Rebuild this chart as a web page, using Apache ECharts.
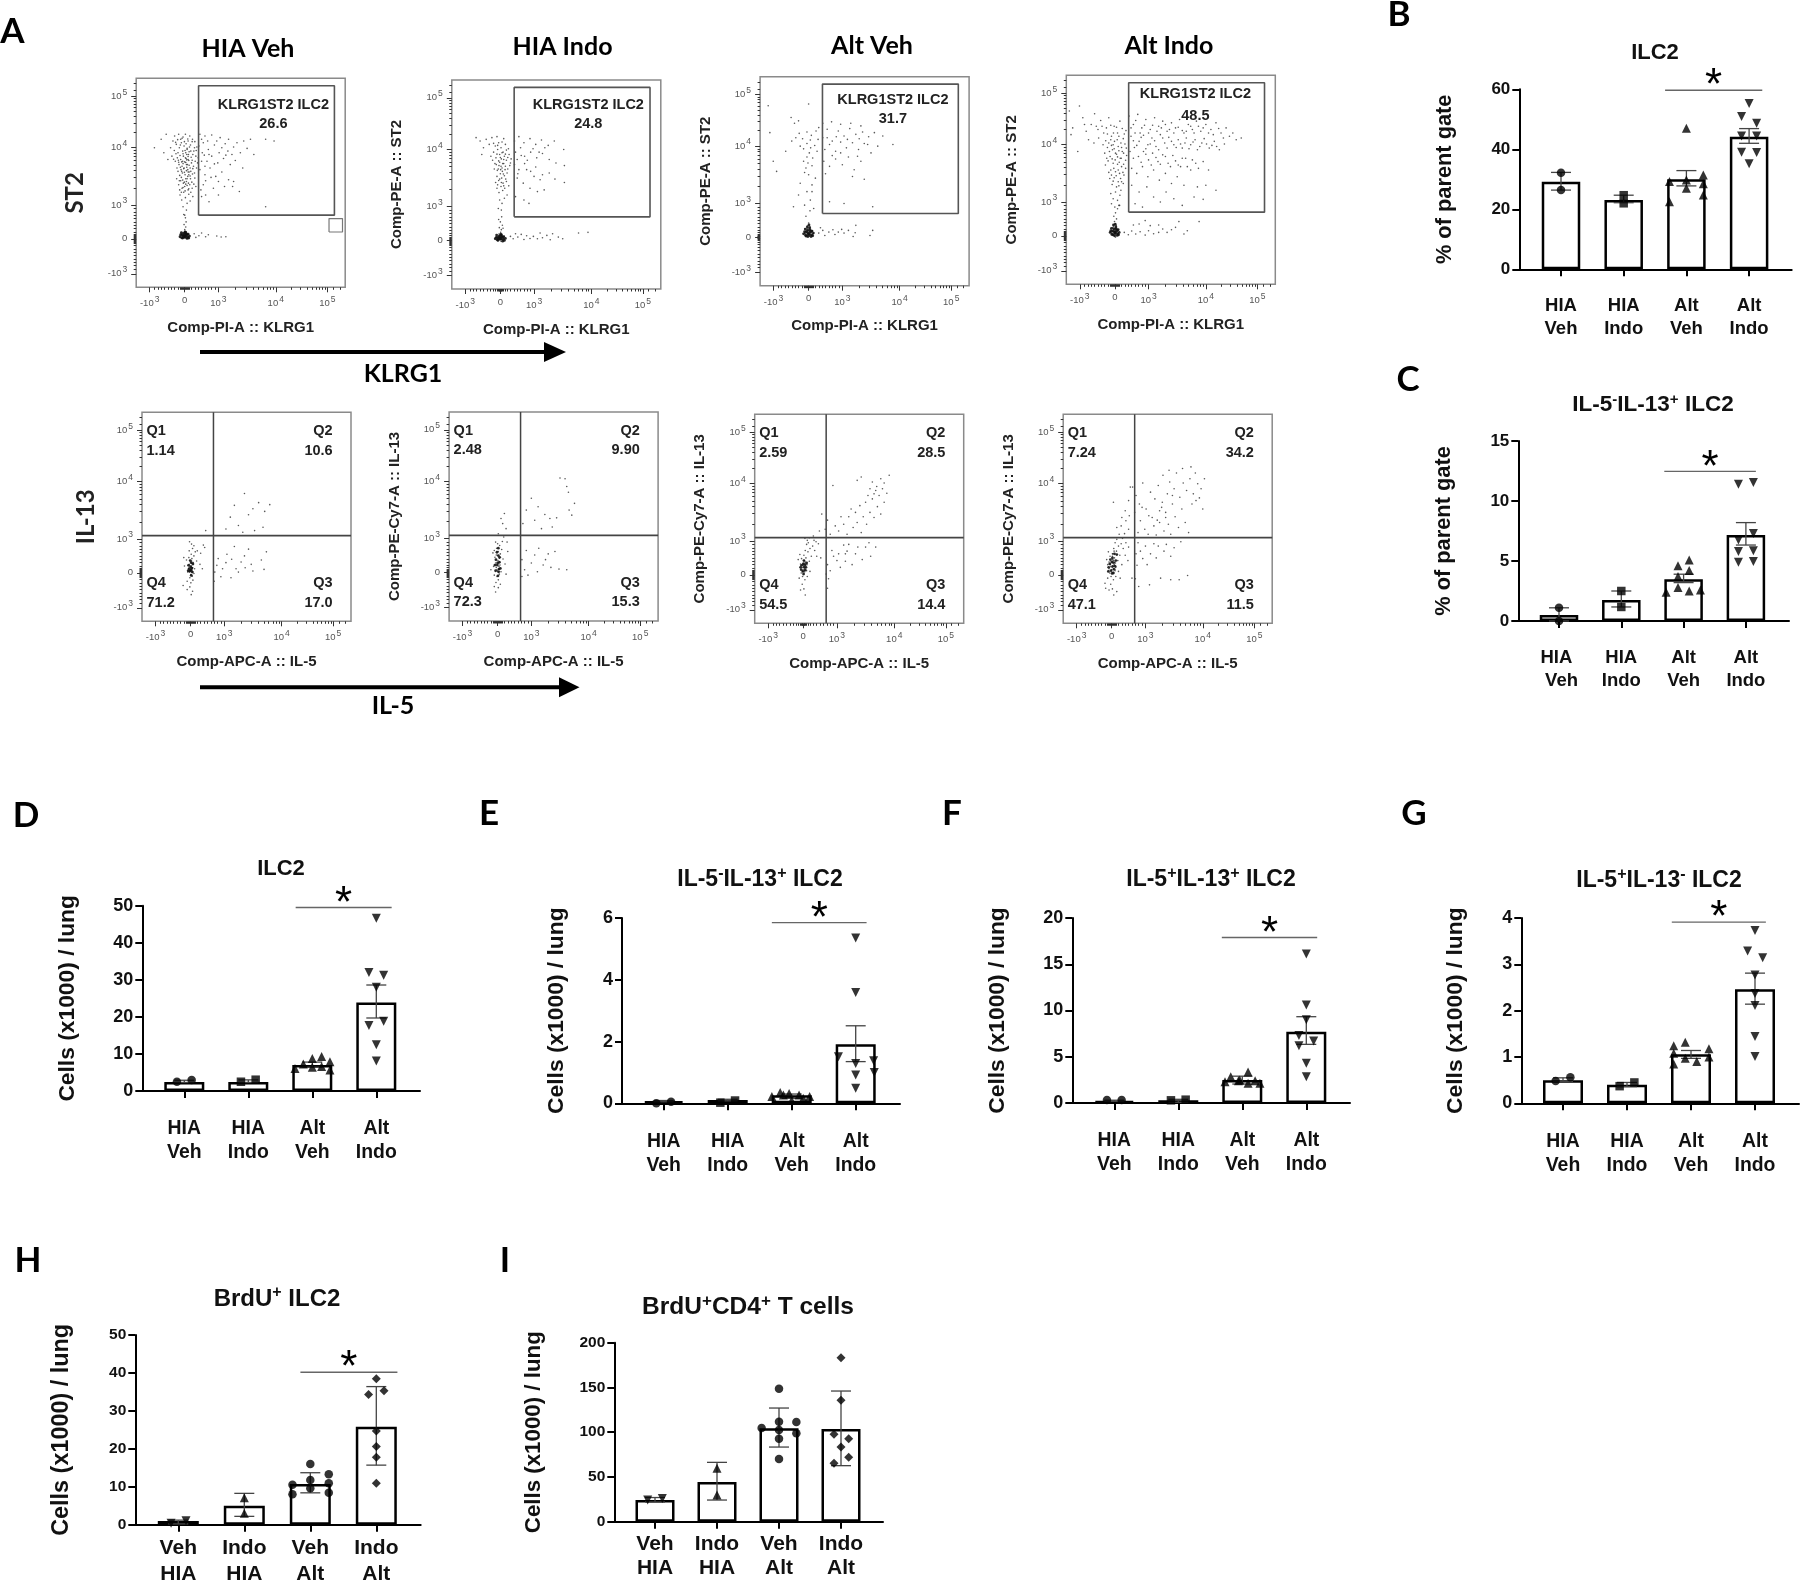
<!DOCTYPE html>
<html><head><meta charset="utf-8">
<style>html,body{margin:0;padding:0;background:#fff}#c{width:1800px;height:1582px}</style>
<script src="https://cdn.jsdelivr.net/npm/echarts@6/dist/echarts.min.js"></script>
</head><body><div id="c"></div>
<script>
// ---------- bar panels: categories ----------
const catsHiaAlt = ['HIA\nVeh','HIA\nIndo','Alt\nVeh','Alt\nIndo'];
const catsHiaAltC = ['HIA \n Veh','HIA\nIndo','Alt\nVeh','Alt\nIndo'];
const catsVehIndo = ['Veh\nHIA','Indo\nHIA','Veh\nAlt','Indo\nAlt'];
// ---------- bar panels: values (mean, error caps, points as [jitter, value]) ----------
const barsB=[29.2,23.1,30,44.2], hiB=[32.3,24.7,32.9,46.9], loB=[26.4,22.2,27.8,42], sigB=[2.66,4.21,59.7];
const ptsB=[[[0,32.2],[0,26.4]],[[0,24.7],[0,22]],
 [[0,47],[.27,31.4],[-.27,29.3],[0,29.8],[0,27],[.27,28.5],[.27,24.8],[-.27,22.5]],
 [[0,55.3],[-.12,50.9],[.12,48.7],[-.12,44.4],[.12,44.4],[-.12,39],[.12,38.9],[0,35.2]]];
const barsC=[.5,1.75,3.47,7.17], hiC=[1.1,2.5,3.9,8.2], loC=[0,1.17,3.2,6.33], sigC=[2.69,4.16,12.47];
const ptsC=[[[0,1.1],[0,0]],[[0,2.5],[0,1.17]],
 [[.09,5.08],[-.09,4.6],[.09,4.2],[-.09,3.7],[-.09,2.8],[.09,2.5],[.27,2.58],[-.28,2.4]],
 [[-.12,11.4],[.12,11.55],[.12,7.3],[-.12,6.75],[-.12,5.8],[.12,5.86],[-.12,4.9],[.12,4.95]]];
const barsD=[2.4,2.4,7,23.9], hiD=[2.9,3,7.8,28.6], loD=[2.3,2.3,6.4,19.7], sigD=[2.74,4.24,49.5];
const ptsD=[[[-.115,2.5],[.115,3]],[[-.115,2.5],[.115,3.05]],
 [[0,8.8],[.146,9.3],[-.14,7.3],[.276,7.9],[-.27,6.1],[0,6.4],[.146,6.6],[.276,5.7]],
 [[0,46.6],[-.115,32],[.115,31.2],[0,28],[.115,18.8],[-.115,17.7],[0,12.5],[0,8.1]]];
const barsE=[.07,.11,.26,1.91], hiE=[.09,.13,.3,2.51], loE=[.05,.08,.16,1.35], sigE=[2.69,4.17,5.85];
const ptsE=[[[-.115,0],[.115,.05]],[[-.115,.02],[.115,.09]],
 [[-.18,.35],[-.04,.32],[-.31,.22],[.115,.27],[.28,.22],[0,.09],[-.13,.27],[.18,.16]],
 [[0,5.35],[0,3.59],[-.27,1.51],[.28,1.38],[0,1.29],[0,.92],[.29,1],[0,.49]]];
const barsF=[.22,.3,2.49,7.7], hiF=[.3,.4,2.9,9.33], loF=[.18,.07,2.05,6.34], sigF=[2.68,4.17,17.9];
const ptsF=[[[-.115,.32],[.115,.32]],[[-.115,.29],[.115,.36]],
 [[.09,3.35],[-.18,2.85],[-.27,2.3],[-.04,2.5],[.09,2.13],[.276,2.13],[-.06,2.4],[.2,2.4]],
 [[0,16.1],[0,10.6],[0,9],[-.115,7.3],[.115,6.7],[-.115,6.2],[0,4.3],[0,2.85]]];
const barsG=[.5,.4,1.06,2.46], hiG=[.55,.45,1.14,2.81], loG=[.47,.36,.97,2.14], sigG=[2.7,4.17,3.91];
const ptsG=[[[-.115,.48],[.115,.56]],[[-.115,.37],[.115,.45]],
 [[-.09,1.32],[-.27,1.24],[.28,1.18],[-.27,1.08],[-.09,.97],[.09,.9],[.28,1],[-.27,.85]],
 [[0,3.73],[-.115,3.29],[.12,3.14],[0,2.77],[0,2.37],[0,2.11],[0,1.44],[0,1.01]]];
const barsH=[.97,5,10.7,25.8], hiH=[1.2,8.26,13.7,36.4], loH=[.2,2.2,8.4,15.7], sigH=[2.85,4.32,40.2];
const ptsH=[[[-.11,.35],[.117,1.05]],[[0,7.1],[0,3]],
 [[0,16],[.28,13.3],[-.27,10.5],[0,11.8],[.28,10.9],[0,9.6],[-.27,8],[.28,8.4]],
 [[0,38.5],[.117,35.3],[-.117,34.3],[0,24.7],[0,20.6],[0,17.8],[0,10.9]]];
const barsI=[24.2,44.3,104.3,103.5], hiI=[27,66.3,127,146], loI=[22,24.2,83.4,62.6];
const ptsI=[[[-.118,24.2],[.118,26]],[[0,59.6],[0,29.8]],
 [[0,148.6],[0,111.7],[.28,111.4],[-.28,104.7],[0,102.4],[.28,98.7],[0,92.7],[0,70]],
 [[0,183.2],[0,135.6],[-.113,97.6],[.124,92.7],[0,83.4],[.124,71.9],[-.113,65.2]]];
// ---------- flow panels: axis ticks in display units, gates, read-off events ----------
const flowTicks=[-1.04,0,1,2.7,4.23];
const flowTickLabels=['-10{s|3}','0','10{s|3}','10{s|4}','10{s|5}'];
const flowMinor=[-.9,-.8,-.7,-.6,-.5,-.4,-.3,-.2,-.14,-.1,-.07,-.04,-.02,.02,.04,.07,.1,.14,.2,.3,.4,.5,.6,.7,.8,.9,1.51,1.81,2.02,2.19,2.32,2.44,2.54,2.62,3.16,3.43,3.63,3.77,3.89,3.99,4.08,4.16,4.4,4.6];
const gateX=[.41,4.44], gateY=[.7,4.54], quadX=.68, quadY=1.1;
const gateNames=['KLRG1ST2 ILC2','KLRG1ST2 ILC2','KLRG1ST2 ILC2','KLRG1ST2 ILC2'];
const gateVals=['26.6','24.8','31.7','48.5'];
const q1A=['1.14','2.48','2.59','7.24'], q2A=['10.6','9.90','28.5','34.2'], q3A=['17.0','15.3','14.4','11.5'], q4A=['71.2','72.3','54.5','47.1'];
const dotsA1=[-.02,.08,.03,.1,0,.13,.05,.06,-.05,.11,.01,.04,-.03,.03,.06,.14,-.08,.08,.08,.09,.02,.17,-.01,.2,.04,.01,-.06,.17,.1,.04,-.1,.13,.12,.12,0,.27,.03,.35,-.02,.42,.04,.5,.02,.62,-.03,.72,.01,.09,-.01,.06,.02,.12,-.04,.09,.04,.07,0,.02,-.02,.15,.03,.16,
.28,.15,.42,.09,.5,.17,.62,.06,.7,.12,.95,.08,1.08,.05,1.22,.06,.33,.04,
-.35,2.9,-.42,2.7,-.3,3.05,-.18,3.1,-.12,2.95,-.05,3.02,.02,3.1,.1,2.9,.15,3.05,.22,2.88,-.38,2.45,-.31,2.62,-.25,2.8,-.2,2.55,-.16,2.7,-.1,2.85,-.06,2.6,-.02,2.75,.03,2.55,.07,2.68,.11,2.5,.14,2.72,.18,2.6,.24,2.5,.29,2.7,.33,2.45,-.28,2.3,-.22,2.4,-.17,2.2,-.12,2.35,-.08,2.15,-.04,2.45,0,2.28,.04,2.38,.08,2.2,.12,2.32,.16,2.1,.2,2.25,.26,2.15,.31,2.3,-.2,2,-.15,1.88,-.11,2.05,-.07,1.95,-.03,2.08,.01,1.9,.05,2.02,.09,1.85,.13,1.98,.17,1.78,.23,1.92,.3,1.8,-.18,1.6,-.12,1.72,-.08,1.5,-.04,1.65,0,1.55,.05,1.7,.1,1.45,.15,1.6,.22,1.5,-.14,1.3,-.09,1.15,-.03,1.38,.02,1.22,.07,1.05,.12,1.32,.16,1.12,-.05,.95,.05,.85,0,.7,.06,2.5,.02,2.4,.1,2.35,.05,2.2,-.02,2.1,.07,2.65,.09,2.05,.03,1.78,-.06,2.3,.12,1.9,-.9,2.7,-.7,2.95,-.55,3.1,-.62,2.55,-.5,2.35,
.45,3.1,.6,3.05,.8,3.08,1.05,3,1.3,2.95,1.55,2.85,1.75,2.9,1.95,2.95,2.4,2.95,2.65,2.9,.42,2.75,.55,2.85,.7,2.65,.88,2.78,1.1,2.7,1.28,2.6,1.45,2.72,1.65,2.55,1.85,2.68,2.05,2.5,.4,2.4,.52,2.55,.66,2.3,.8,2.45,.98,2.25,1.15,2.38,1.35,2.2,1.5,2.32,1.72,2.1,.45,2.05,.6,1.9,.75,2.1,.92,1.85,1.1,1.98,1.3,1.75,1.45,1.7,1.18,1.55,.85,1.5,.55,1.6,.5,1.25,.62,1.3,1,1.3,1.42,1.55,1.62,1.4,.72,1.1,2.4,.95,
-.27,2.86,-.21,2.94,-.13,2.78,-.08,2.98,-.01,2.88,.04,2.82,.09,2.96,.17,2.78,.23,2.95,.3,2.88,.36,2.72,-.33,2.36,-.26,2.52,-.19,2.33,-.14,2.47,-.09,2.28,-.05,2.52,.01,2.62,.06,2.34,.1,2.44,.13,2.58,.19,2.42,.22,2.33,.27,2.6,.34,2.62,.38,2.25,-.23,2.1,-.18,2.27,-.13,2.12,-.09,2,-.05,2.23,-.01,1.97,.03,2.26,.06,2.12,.1,1.98,.13,2.18,.18,2,.24,2.08,.29,1.95,.35,2.1,-.24,1.78,-.16,1.72,-.1,1.82,-.06,1.74,-.01,1.68,.03,1.62,.07,1.78,.11,1.65,.16,1.86,.21,1.68,.27,1.62,.33,1.55,-.15,1.45,-.1,1.38,-.05,1.52,.01,1.42,.07,1.58,.12,1.48,.18,1.38,.24,1.25,
.5,2.95,.68,2.9,.95,2.9,1.2,2.82,.5,2.3,.6,2.15,.72,2.5,.88,2.22,.58,2.48,1.02,2.55,1.22,2.48,1.4,2.5,.62,1.72,.78,1.82,1,1.7,.48,1.45];
const dotsA2=[0,.05,.03,.08,-.03,.02,.05,.1,-.05,.07,.01,.13,-.02,.11,.07,.04,-.07,.12,.09,.07,.02,-.02,-.09,.03,.11,.12,.04,.17,-.04,.19,.01,.24,.03,.32,-.03,.38,.06,.45,0,.55,-.05,.62,.04,.7,.08,.36,0,.08,.02,.03,-.01,.15,.04,.05,-.02,.06,.06,.12,.03,.12,
.3,.12,.38,.05,.45,.2,.52,.1,.62,.18,.7,.03,.78,.14,.88,.06,.98,.12,1.1,.05,1.18,.22,1.25,.08,1.38,.15,1.48,.02,1.55,.2,1.72,.1,1.85,.05,2.32,.22,2.6,.24,
-.72,3.05,-.6,2.95,-.5,2.75,-.42,3,-.33,2.85,-.55,2.55,-.25,3.05,-.15,2.8,-.1,3.08,-.05,2.9,.02,2.75,.1,3.02,.15,2.85,.24,2.72,-.28,2.5,-.2,2.62,-.13,2.45,-.08,2.7,-.02,2.55,.03,2.42,.08,2.62,.12,2.5,.18,2.38,.26,2.55,.32,2.42,-.12,2.25,-.06,2.12,-.02,2.32,.02,2.2,.06,2.05,.1,2.28,.14,2.1,.2,2,.28,2.22,-.1,1.9,-.05,1.78,0,1.98,.04,1.85,.08,1.7,.12,1.92,.18,1.75,-.1,1.55,-.04,1.42,.02,1.6,.07,1.48,.13,1.55,.2,1.35,-.02,1.2,.05,1.1,.12,1.25,-.06,.95,.03,.9,
.42,2.95,.55,3.08,.7,2.9,.88,3.02,1.05,2.85,1.22,2.98,1.42,2.82,1.6,2.95,1.88,2.7,.45,2.62,.6,2.75,.72,2.5,.9,2.62,1.08,2.45,1.25,2.58,1.45,2.4,1.65,2.3,1.9,2.22,.42,2.25,.55,2.1,.72,2.28,.9,2.05,1.05,2.18,1.25,1.95,1.45,2,1.62,1.82,1.9,1.72,.5,1.85,.68,1.7,.88,1.55,1.1,1.45,1.3,1.5,.45,1.3,.7,1.2,.85,1.1,
-.2,2.88,-.08,2.82,.05,2.92,.18,2.68,-.23,2.38,-.16,2.28,-.1,2.56,-.05,2.36,0,2.46,.05,2.6,.07,2.28,.1,2.4,.15,2.56,.22,2.46,.3,2.3,-.18,2.12,-.09,2.08,-.04,2.22,.01,2.1,.05,2.15,.09,1.97,.15,2.2,.22,2.12,-.14,1.72,-.08,1.65,-.02,1.82,.03,1.72,.1,1.62,.16,1.82,.25,1.62,.5,2.4,.62,2.52,.8,2.38,.97,2.72,1.15,2.62,1.32,2.75,.52,1.98,.78,2.1,1,1.9,1.18,1.8];
const dotsA3=[0,.1,.03,.14,-.03,.18,.05,.08,-.05,.06,.01,.22,-.02,.26,.07,.13,-.07,.15,.09,.05,.02,.03,-.09,.1,.11,.18,.04,.3,-.04,.34,.01,.12,.03,.05,-.01,.07,.06,.2,-.06,.24,-.12,.12,.14,.1,.02,.17,-.02,.09,.04,.16,-.04,.12,0,.42,
.3,.12,.42,.2,.48,.05,.6,.15,.72,.22,.78,.08,.88,.15,.98,.23,1.05,.12,1.18,.2,1.38,.13,1.32,.02,1.9,.2,1.82,.05,.35,.28,1.4,.35,
-.45,.9,-.3,1.25,-.25,1.6,-.12,.95,-.05,1.35,.05,1.1,.1,1.55,.15,.85,0,1.85,-.08,2.05,.1,2.12,.2,1.75,-.15,2.25,-.05,2.38,.02,2.5,.12,2.35,.25,2.55,-.25,2.7,-.15,2.62,-.05,2.78,.05,2.88,.18,2.72,.28,2.9,-.38,2.95,-.28,3.08,-.18,2.92,-.05,3.12,.08,3.02,.22,3.15,-.52,3.55,-.42,3.38,-.3,3.45,-.5,2.85,-1.15,3.1,-1.2,3.9,-.95,1.95,-1.05,2.25,-.68,2.55,0,3.95,.3,3.25,
.42,2.95,.55,3.2,.7,2.85,.88,3.15,1.05,3,1.22,3.22,1.4,3.05,1.6,3.12,1.78,2.98,1.95,3.1,2.2,3,.48,2.6,.62,2.75,.8,2.55,.95,2.82,1.12,2.65,1.3,2.8,1.48,2.6,1.65,2.78,1.85,2.5,2.05,2.7,2.5,2.75,.45,2.25,.62,2.1,.8,2.32,1,2.15,1.18,2.38,1.35,2,1.55,2.25,1.3,1.8,.5,1.88,1.65,1.72,.62,1.05,1.05,1,1.9,.9,
-.02,2.2,.06,2.65,-.12,1.92,.1,1.35,.04,.78,-.08,.62,.42,3.38,.68,3.42,.95,3.35,1.25,3.38,1.55,3.3,.55,2.95,.82,2.98,1.15,2.9,1.5,2.92,1.75,2.75,.7,2.42,.95,2.5,1.45,2.4];
const dotsA4=[0,.1,.03,.14,-.03,.17,.05,.07,-.05,.05,.01,.22,-.02,.02,.07,.13,-.07,.13,.09,.05,.02,.03,-.09,.08,.1,.17,.04,.3,-.04,.28,.01,.12,.03,.05,-.01,.07,.06,.2,-.06,.24,-.12,.1,.02,.36,-.01,.42,.05,.5,-.03,.58,.02,.68,.08,.8,.14,.9,.01,.16,.03,.09,-.02,.11,.02,-.04,
.28,.1,.4,.03,.5,.14,.62,.05,.75,.12,.9,.02,1,.15,1.15,.06,1.3,.1,1.42,.2,1.55,.1,1.68,.18,1.8,.25,1.9,.42,2.05,.05,2.5,.42,2.15,.15,.55,.32,.72,.35,1.05,.3,.9,.45,1.3,.32,
-1.35,3.7,-1.25,3.2,-1.3,3,-1.05,3.85,-.95,3.5,-.85,3.1,-1.1,2.5,-.7,3.3,-.6,3.62,-.5,3.15,-.42,3.42,-.33,3.05,-.78,2.85,-.62,2.75,-.48,2.9,-.35,2.7,-.25,3.2,-.18,3.5,-.1,2.95,-.02,3.25,.08,3.05,.15,3.4,.25,2.88,.33,3.12,-.3,2.45,-.22,2.62,-.14,2.35,-.07,2.55,-.01,2.8,.05,2.42,.1,2.65,.16,2.3,.22,2.5,.3,2.72,.35,2.38,-.28,2.1,-.2,2.22,-.12,1.95,-.05,2.15,.02,1.9,.08,2.12,.14,1.85,.2,2.05,.27,1.8,.32,2,-.15,1.7,-.08,1.52,-.02,1.72,.05,1.45,.1,1.6,.18,1.35,.25,1.55,-.12,1.25,-.05,1.1,.02,1.3,.08,1.05,.15,1.2,-.1,.95,0,.85,.12,.9,-.05,2.7,.02,2.45,-.12,2.85,.18,2.75,
.42,3.55,.55,3.3,.68,3.6,.8,3.2,.92,3.45,1.05,3.15,1.18,3.5,1.3,3.25,1.42,3.4,1.55,3.1,1.68,3.35,1.8,3.2,1.92,3.45,2.05,3.05,2.18,3.3,2.3,3.15,2.42,3.4,2.55,3.1,2.7,3.3,2.85,3.15,3,3.35,3.15,3.05,3.3,3.2,3.5,3.05,3.75,2.9,.48,2.95,.6,3.05,.72,2.8,.85,2.98,.98,2.7,1.1,2.9,1.22,2.65,1.35,3,1.48,2.75,1.6,2.92,1.75,2.7,1.88,2.85,2,2.6,2.12,2.9,2.25,2.7,2.38,2.85,2.52,2.65,2.65,2.88,2.8,2.6,2.95,2.8,3.1,2.55,3.25,2.72,
.45,2.5,.58,2.62,.7,2.35,.85,2.5,1,2.25,1.12,2.45,1.28,2.2,1.42,2.4,1.58,2.15,1.72,2.38,1.88,2.1,2,2.3,2.15,2.05,2.3,2.25,2.48,2,2.62,2.2,2.78,1.95,.5,2,.65,1.85,.82,2.05,.98,1.75,1.15,1.95,1.32,1.65,1.5,1.85,1.68,1.55,1.85,1.75,2.05,1.5,2.45,1.45,2.7,1.5,3,1.35,.5,1.5,.72,1.3,.95,1.45,1.15,1.15,1.35,1,1.52,1.3,1.75,1.1,2,.9,2.35,1.15,2.62,1.08,.6,.95,.82,.85,
-.9,3.3,-.55,3.25,-.38,3.25,-.22,3.02,-.12,3.28,-.04,3.05,.05,3.22,.12,2.95,.22,3.18,.28,3.02,-.27,2.82,-.18,2.75,-.1,2.68,-.02,2.58,.07,2.85,.12,2.52,.2,2.62,.26,2.45,.34,2.6,-.24,2.3,-.16,2.5,-.08,2.28,.01,2.25,.08,2.34,.13,2.18,.19,2.3,.26,2.12,.32,2.24,-.18,1.88,-.1,1.8,-.03,2,.04,1.78,.1,1.95,.17,1.7,.24,1.88,-.05,1.62,.12,1.48,.2,1.6,
.48,3.2,.62,3.42,.75,3.05,.88,3.28,1,3.05,1.12,3.28,1.25,3.1,1.38,3.2,1.5,3.3,1.62,3.15,1.75,3.05,1.88,3.22,2,3.12,2.12,3.1,2.25,3.25,2.35,3.05,2.48,3.25,2.62,3.2,2.78,3.05,2.92,3,3.08,3.18,3.22,2.9,3.4,2.95,3.6,2.85,.55,2.82,.65,2.68,.78,2.92,.92,2.58,1.05,2.72,1.18,2.82,1.3,2.55,1.42,2.9,1.55,2.6,1.68,2.8,1.82,2.62,1.95,2.72,2.08,2.75,2.2,2.58,2.32,2.78,2.45,2.55,2.58,2.75,2.72,2.72,2.88,2.68,3.02,2.65,.55,2.3,.78,2.18,.92,2.42,1.08,2.1,1.22,2.32,1.35,2.12,1.5,2.35,1.65,2.05,1.8,2.22,1.95,2.05,2.1,2.3,2.25,1.95,2.4,2.15];
const dotsA5=[0,.1,.04,.05,-.03,.02,.06,.15,-.06,.12,.02,.2,.01,-.05,.05,-.1,-.04,.25,.08,.3,.03,.35,-.08,.02,.1,-.02,-.02,-.15,.04,.42,-.05,.45,.07,-.22,.01,-.3,-.1,-.25,.12,.12,-.12,.38,.02,.55,.1,.5,-.04,.65,.06,.72,.03,.85,-.03,.92,.1,.8,.14,.62,.05,.08,.02,.15,-.01,.07,.07,.02,.01,.12,.18,.35,.2,.65,.28,.25,.3,.58,.35,.12,.38,.82,-.18,.2,-.22,-.38,-.1,-.5,-.02,-.42,.06,-.55,.02,-.65,-.2,.45,.04,.28,
.72,.02,.78,.22,.82,.42,.9,-.12,.95,.12,1.05,.3,1.08,.55,1.2,-.15,1.22,.4,1.3,.78,1.35,.12,1.42,.02,1.5,.32,1.6,.5,1.62,.15,1.72,.7,1.8,.25,1.85,.05,2.1,.38,2.18,.1,2.25,.62,.7,-.25,.42,.75,
1.05,1.3,1.18,1.65,1.3,2,1.42,1.4,1.55,1.2,1.6,2.35,1.72,1.72,1.85,1.9,1.9,1.25,2.02,2.08,2.15,1.35,2.2,1.82,2.35,2.02,.45,1.25];
const dotsA6=[0,.05,.03,.1,-.04,.15,.05,-.05,-.02,-.12,.07,.22,-.06,.28,.01,.35,.05,.42,-.08,.45,-.04,.52,.08,.55,.02,.62,-.1,.65,.12,.68,-.03,.72,.06,.8,0,.85,.14,.92,-.06,.9,.18,1.05,.02,1.15,-.12,.18,.1,.02,-.1,-.08,.02,-.22,-.05,-.3,.08,-.35,.02,-.45,-.1,-.42,-.06,-.58,.01,.02,.04,.18,-.02,.08,.06,.32,-.14,.58,.22,.25,.3,.62,-.2,.08,.16,.4,.25,-.05,.28,.9,
.72,.38,.8,.08,.85,.65,.9,-.08,1,.28,1.1,.52,1.18,.02,1.22,.72,1.35,.22,1.42,.38,1.5,.55,1.58,.15,1.7,.62,1.82,.1,2.05,.08,.72,-.12,.15,1.45,.2,1.75,.1,1.6,.25,1.3,
.75,1.45,.85,1.85,1,2.2,1.1,1.55,1.2,1.95,1.3,1.3,1.4,1.72,1.55,1.6,1.62,1.35,1.75,1.62,1.85,2.8,2,2.78,2.05,2.55,2.1,2.38,2.12,1.85,2.2,1.7,2.28,2.05];
const dotsA7=[0,.15,.04,.08,-.03,.22,.07,.28,-.06,.05,.02,.35,.05,.18,-.08,.32,.1,.12,-.02,-.05,.03,.42,.08,.5,-.05,.48,.11,.3,.02,.58,.14,.68,.06,.72,.18,.4,-.1,.6,.2,.78,.1,.9,.24,.55,.28,.85,.15,.95,.12,1.02,.34,.72,.05,-.15,-.03,-.28,-.08,-.45,.02,-.42,.06,-.6,-.12,-.1,.12,-.05,.2,.1,-.15,.45,.02,.25,.04,.12,0,.28,.06,.38,-.02,.1,.4,.55,.45,.92,.52,.5,.3,1.15,.38,.98,.48,1.3,.32,1.02,.18,1.1,.05,1.08,
.68,.02,.72,.3,.75,-.12,.85,.72,.9,.55,1,.42,1.05,.62,1.2,.88,1.25,.4,1.3,.7,1.35,.9,1.45,.3,1.55,.62,1.62,.82,1.75,.45,1.85,.82,1.95,.95,2,.55,2.15,.82,.72,-.4,.8,.12,1.1,.22,1.25,.62,
.55,1.8,.65,1.35,.72,1.62,.8,1.2,.88,2.65,.95,1.45,1.05,1.3,1.12,1.72,1.2,1.5,1.3,1.2,1.35,1.72,1.42,1.95,1.48,1.4,1.55,1.85,1.6,1.55,1.68,2.05,1.72,1.25,1.78,1.72,1.85,2.15,1.88,1.5,1.92,2.35,1.98,1.85,2.05,2.25,2.1,1.7,2.15,2.5,2.2,2.02,2.25,2.35,2.3,1.8,2.35,2.55,2.4,2.15,2.48,2.42,1.6,2.8,1.72,2.9,2.05,2.75,2.3,2.85,2.55,2.95,2.4,2.72,2.18,2.62,2.1,2.4,1.98,2.55];
const dotsA8=[0,.15,.04,.08,-.03,.25,.07,.3,-.06,.05,.02,.35,.05,.18,-.08,.38,.1,.12,-.02,-.05,.03,.45,.08,.5,-.05,.55,.11,.35,.02,.62,.14,.7,.06,.78,.18,.42,-.1,.68,.2,.85,.1,.95,.24,.58,.28,.92,.15,1.05,.12,.22,.34,.78,-.04,.32,.01,.22,.05,.42,.09,.28,-.08,.18,-.12,.3,.03,.62,.07,.7,.02,.55,.05,-.15,-.03,-.28,-.08,-.45,.02,-.42,.06,-.6,-.12,-.1,-.18,-.4,-.2,-.25,.12,-.05,.2,.1,-.15,.45,.15,-.5,.25,-.1,.3,.3,.4,.58,.42,.95,.48,.42,.5,.82,.32,1.08,.38,1.22,.5,1.35,.22,1.2,.28,1.45,.15,1.4,.42,1.6,.52,1.75,.3,1.7,.4,1.9,.05,2.15,.5,2.2,.55,2.6,
.7,-.12,.75,.28,.72,.62,.78,.95,.85,.7,.92,.48,1,.85,1.05,.3,1.12,-.3,1.15,.62,1.25,.92,1.32,.5,1.38,.85,1.45,-.1,1.55,.7,1.62,.9,1.75,.55,1.85,.8,2.05,.98,1.75,-.15,2,-.15,2.25,-.02,.8,-.35,.6,-.1,
.62,2.6,.68,1.85,.72,2.35,.78,1.25,.82,2.1,.85,1.6,.92,2.72,.98,1.35,1.02,1.95,1.08,1.2,1.15,2.45,1.2,1.7,1.25,1.45,1.28,2.25,1.32,1.18,1.38,2.65,1.42,1.55,1.48,2,1.52,2.95,1.55,1.3,1.6,1.85,1.65,2.4,1.68,1.5,1.72,2.75,1.75,1.2,1.8,2.1,1.85,2.55,1.88,1.72,1.92,3.02,1.98,1.4,2.02,2.3,2.08,1.95,2.12,2.72,2.18,1.55,2.22,2.5,2.28,1.25,2.32,2.85,2.38,2.1,2.42,2.4,2.48,3.02,2.55,2.7,2.6,2.28,2.65,2.55,2.7,1.95,2.75,2.85,2.1,3.15,1.7,3.1,2.35,3.2,2.5,2.2,1.5,2.15,.9,2,1.1,1.75,1.35,1.62,1.42,1.9,1.6,1.7,1.8,2.35];
// dense near-zero populations, drawn with a heavier dot
const coreA1=[-.14,.06,-.1,.18,-.06,.02,-.03,.16,0,.06,.03,.19,.07,.01,.1,.14,.14,.08,-.12,.12,-.07,.11,-.02,.1,.02,.07,.06,.12,.09,.05,-.09,.03,.04,.14,-.04,.06,.12,.02,.01,.2];
const coreA2=[-.15,.05,-.11,.16,-.07,0,-.03,.13,0,.04,.03,.17,.07,-.02,.1,.11,.15,.06,-.12,.09,-.08,.08,-.02,.08,.02,.05,.06,.1,.09,.03,-.09,.02,.04,.12,-.04,.05,.12,0,.01,.18];
const coreA3=[-.15,.1,-.1,.24,-.07,.03,-.03,.2,0,.08,.03,.28,.07,.02,.1,.18,.14,.12,-.12,.16,-.07,.16,-.02,.12,.02,.1,.06,.16,.09,.07,-.09,.06,.04,.22,-.04,.3,.12,.04,.01,.36,-.02,.02];
const coreA4=[-.14,.1,-.1,.22,-.06,.03,-.03,.2,0,.08,.03,.26,.07,.01,.1,.18,.13,.1,-.12,.15,-.07,.14,-.02,.12,.02,.1,.06,.15,.09,.06,-.09,.04,.04,.2,-.04,.32,.11,.03,.01,.34,-.01,.0];
const coreA5=[-.06,.22,-.02,.05,.02,.3,.05,.02,-.04,.12,0,.18,.04,.14,.07,.26,.02,-.08,-.07,.06,.01,.08,-.01,.36];
const coreA6=[-.05,.38,-.01,.22,.02,.5,.04,.1,-.06,.05,0,.28,.05,.3,.08,.12,.01,-.1,-.08,.22,.03,.02,-.02,.6,.06,.45,.02,.72];
const coreA7=[-.05,.28,-.01,.1,.03,.22,.06,.14,-.06,.15,0,.32,.05,.3,.08,.22,.01,.02,-.08,.22,.02,.42,.1,.35];
const coreA8=[-.06,.32,-.02,.12,.03,.25,.07,.16,-.09,.22,0,.38,.06,.36,.1,.25,.01,.04,-.1,.1,.02,.5,.12,.42,.05,.05,-.04,.45,.15,.6,.08,.62];

// ---------- layout helpers ----------
const SANS='"Liberation Sans",Arial,sans-serif', HEAD='Lato,"Open Sans",sans-serif';
const pairs=a=>{const o=[];for(let i=0;i<a.length;i+=2)o.push([a[i],a[i+1]]);return o;};
const option={backgroundColor:'#fff',animation:false,title:[],grid:[],xAxis:[],yAxis:[],series:[],graphic:[]};
function addText(text,x,y,font){option.title.push({text,left:x,top:y,padding:0,textAlign:'center',textVerticalAlign:'middle',textStyle:font});}
const headFont=s=>({fontFamily:HEAD,fontWeight:'bold',fontSize:s,color:'#000'});
const titleFont=s=>({fontFamily:SANS,fontWeight:'bold',fontSize:s,color:'#111',rich:{s:{fontFamily:SANS,fontWeight:'bold',fontSize:Math.round(s*.68),color:'#111',padding:[0,0,Math.round(s*.5),0]}}});

// ---------- bar panels ----------
const markerSets={std:[['circle',0],['rect',0],['triangle',0],['triangle',180]],brdu:[['triangle',180],['triangle',0],['circle',0],['diamond',0]]};
function barPanel(p){
  const g=option.grid.length;
  const sp=p.c[1]-p.c[0];
  option.grid.push({left:p.ax,top:p.yTop,width:p.right-p.ax,height:p.y0-p.yTop,outerBoundsMode:'none'});
  option.xAxis.push({gridIndex:g,type:'value',min:1-(p.c[0]-p.ax)/sp,max:1+(p.right-p.c[0])/sp,splitLine:{show:false},
    axisLine:{onZero:false,lineStyle:{color:'#000',width:2}},
    axisTick:{length:7,customValues:[1,2,3,4],lineStyle:{color:'#000',width:2}},
    axisLabel:{customValues:[1,2,3,4],margin:p.labM,fontFamily:SANS,fontWeight:'bold',fontSize:p.catFs,color:'#111',lineHeight:p.labLh,formatter:v=>p.cats[Math.round(v)-1]}});
  option.yAxis.push({gridIndex:g,type:'value',min:0,max:p.ymax,interval:p.step,splitLine:{show:false},
    name:p.yName,nameLocation:'middle',nameGap:p.ax-p.nameX-p.nameFs/2,nameTextStyle:{fontFamily:SANS,fontWeight:'bold',fontSize:p.nameFs,color:'#111'},
    axisLine:{lineStyle:{color:'#000',width:2}},axisTick:{length:7,lineStyle:{color:'#000',width:2}},
    axisLabel:{margin:9,fontFamily:SANS,fontWeight:'bold',fontSize:p.tickFs,color:'#111'}});
  const xi=option.xAxis.length-1, yi=option.yAxis.length-1;
  option.series.push({type:'bar',xAxisIndex:xi,yAxisIndex:yi,barWidth:p.bw,z:2,silent:true,
    data:p.bars.map((v,i)=>[i+1,v]),itemStyle:{color:'#fff',borderColor:'#000',borderWidth:2.5}});
  option.series.push({type:'custom',xAxisIndex:xi,yAxisIndex:yi,z:3,silent:true,encode:{x:0,y:[1,2]},
    data:p.hi.map((v,i)=>[i+1,v,p.lo[i]]),
    renderItem(par,api){const x=api.value(0),a=api.coord([x,api.value(1)]),b=api.coord([x,api.value(2)]);
      const st={stroke:'#444',lineWidth:1.3,fill:null};
      return {type:'group',children:[
        {type:'line',shape:{x1:a[0],y1:a[1],x2:b[0],y2:b[1]},style:st},
        {type:'line',shape:{x1:a[0]-10,y1:a[1],x2:a[0]+10,y2:a[1]},style:st},
        {type:'line',shape:{x1:b[0]-10,y1:b[1],x2:b[0]+10,y2:b[1]},style:st}]};}});
  p.pts.forEach((grp,i)=>{const m=markerSets[p.marks][i];
    option.series.push({type:'scatter',xAxisIndex:xi,yAxisIndex:yi,z:4,silent:true,symbol:m[0],symbolRotate:m[1],symbolSize:m[0]==='circle'||m[0]==='rect'?8.5:9,
      data:grp.map(q=>[i+1+q[0],q[1]]),itemStyle:{color:'#000'}});});
  if(p.sig){option.series.push({type:'custom',xAxisIndex:xi,yAxisIndex:yi,z:5,silent:true,encode:{x:[0,1],y:2},data:[p.sig],
    renderItem(par,api){const a=api.coord([api.value(0),api.value(2)]),b=api.coord([api.value(1),api.value(2)]);
      return {type:'group',children:[
        {type:'line',shape:{x1:a[0],y1:a[1],x2:b[0],y2:b[1]},style:{stroke:'#666',lineWidth:1.4}},
        {type:'text',style:{text:'*',x:(a[0]+b[0])/2,y:a[1]-3,align:'center',verticalAlign:'middle',font:'44px '+SANS,fill:'#000'}}]};}});}
  addText(p.title,p.tx,p.ty,titleFont(p.titleFs));
}
const cellLung='Cells (x1000) / lung', pct='% of parent gate';
[
 {ax:1519.3,y0:269.3,yTop:89.3,c:[1561,1623.7,1686,1748.7],right:1791.7,ymax:60,step:20,cats:catsHiaAlt,bars:barsB,hi:hiB,lo:loB,pts:ptsB,sig:sigB,marks:'std',bw:38.5,yName:pct,nameX:1445,nameFs:21.8,tickFs:17,catFs:18.5,labM:25,labLh:23,title:'ILC2',tx:1655,ty:53,titleFs:22},
 {ax:1518.3,y0:621,yTop:441,c:[1559,1621.3,1684,1746.3],right:1789,ymax:15,step:5,cats:catsHiaAltC,bars:barsC,hi:hiC,lo:loC,pts:ptsC,sig:sigC,marks:'std',bw:38.5,yName:pct,nameX:1444,nameFs:21.8,tickFs:17,catFs:18.5,labM:25,labLh:23,title:'IL-5{s|-}IL-13{s|+} ILC2',tx:1653,ty:405,titleFs:22.5},
 {ax:142.3,y0:1091,yTop:905.7,c:[184.3,248.3,312.3,376.3],right:420,ymax:50,step:10,cats:catsHiaAlt,bars:barsD,hi:hiD,lo:loD,pts:ptsD,sig:sigD,marks:'std',bw:40,yName:cellLung,nameX:68,nameFs:22.8,tickFs:18,catFs:19.4,labM:26,labLh:24,title:'ILC2',tx:281,ty:869,titleFs:22},
 {ax:622,y0:1103.3,yTop:918,c:[663.7,727.7,791.7,855.7],right:900,ymax:6,step:2,cats:catsHiaAlt,bars:barsE,hi:hiE,lo:loE,pts:ptsE,sig:sigE,marks:'std',bw:40,yName:cellLung,nameX:557,nameFs:22.8,tickFs:18,catFs:19.4,labM:26,labLh:24,title:'IL-5{s|-}IL-13{s|+} ILC2',tx:760,ty:880,titleFs:23},
 {ax:1072.3,y0:1103,yTop:918,c:[1114.3,1178.3,1242.3,1306.3],right:1350,ymax:20,step:5,cats:catsHiaAlt,bars:barsF,hi:hiF,lo:loF,pts:ptsF,sig:sigF,marks:'std',bw:40,yName:cellLung,nameX:998,nameFs:22.8,tickFs:18,catFs:19.4,labM:26,labLh:24,title:'IL-5{s|+}IL-13{s|+} ILC2',tx:1211,ty:880,titleFs:23},
 {ax:1521.3,y0:1103.3,yTop:918,c:[1563,1627,1691,1755],right:1799,ymax:4,step:1,cats:catsHiaAlt,bars:barsG,hi:hiG,lo:loG,pts:ptsG,sig:sigG,marks:'std',bw:40,yName:cellLung,nameX:1456,nameFs:22.8,tickFs:18,catFs:19.4,labM:26,labLh:24,title:'IL-5{s|+}IL-13{s|-} ILC2',tx:1659,ty:881,titleFs:23},
 {ax:135.3,y0:1524.7,yTop:1335,c:[178.3,244.3,310,375.7],right:420.7,ymax:50,step:10,cats:catsVehIndo,bars:barsH,hi:hiH,lo:loH,pts:ptsH,sig:sigH,marks:'brdu',bw:41,yName:cellLung,nameX:61.7,nameFs:23.4,tickFs:15.5,catFs:21,labM:11,labLh:26,title:'BrdU{s|+} ILC2',tx:277,ty:1299,titleFs:24},
 {ax:614.3,y0:1521.7,yTop:1342.7,c:[655,717,779,840.7],right:883,ymax:200,step:50,cats:catsVehIndo,bars:barsI,hi:hiI,lo:loI,pts:ptsI,sig:null,marks:'brdu',bw:39,yName:cellLung,nameX:534,nameFs:22.3,tickFs:15.5,catFs:21,labM:11,labLh:24,title:'BrdU{s|+}CD4{s|+} T cells',tx:748,ty:1307,titleFs:24.5}
].forEach(barPanel);

// ---------- flow panels ----------
const flowMin=-1.44, flowMax=4.76;
function flowAxes(g,pos,name,fs,gap,family,namePad){
  const isX=pos==='bottom';
  const main={gridIndex:g,type:'value',position:pos,min:flowMin,max:flowMax,splitLine:{show:false},axisLine:{show:false,onZero:false},
    name,nameLocation:'middle',nameGap:gap,nameTextStyle:{fontFamily:family,fontWeight:'bold',fontSize:fs,color:'#222',padding:namePad||0},
    axisTick:{length:5,customValues:flowTicks,lineStyle:{color:'#333',width:1}},
    axisLabel:{customValues:flowTicks,margin:isX?8:9,fontFamily:SANS,fontSize:9.5,color:'#555',
      formatter:v=>flowTickLabels[flowTicks.indexOf(v)],rich:{s:{fontFamily:SANS,fontSize:8.5,color:'#555',padding:[0,0,8,1]}}}};
  const minor={gridIndex:g,type:'value',position:pos,min:flowMin,max:flowMax,splitLine:{show:false},axisLine:{show:false,onZero:false},
    axisTick:{length:2.5,customValues:flowMinor,lineStyle:{color:'#333',width:1}},axisLabel:{show:false}};
  (isX?option.xAxis:option.yAxis).push(main,minor);
}
function flowPanel(f){
  const g=option.grid.length;
  option.grid.push({left:f.x,top:f.y,width:209,height:209,show:true,outerBoundsMode:'none',backgroundColor:'#fff',borderColor:'#8a8a8a',borderWidth:1.5});
  const xi=option.xAxis.length, yi=option.yAxis.length;
  flowAxes(g,'bottom',f.xName,15,33,SANS);
  flowAxes(g,'left',f.yName,f.yFs,f.yGap,f.yFam,f.yPad);
  const L=(data,color,w)=>({type:'line',xAxisIndex:xi,yAxisIndex:yi,data,symbol:'none',silent:true,z:3,lineStyle:{color,width:w}});
  option.series.push({type:'scatter',xAxisIndex:xi,yAxisIndex:yi,data:pairs(f.dots),symbolSize:1.6,silent:true,z:2,itemStyle:{color:'#222',opacity:.75}});
  option.series.push({type:'scatter',xAxisIndex:xi,yAxisIndex:yi,data:pairs(f.core),symbolSize:2.8,silent:true,z:2,itemStyle:{color:'#111',opacity:.9}});
  const texts=[];
  if(f.gate){
    option.series.push(L([[gateX[0],gateY[0]],[gateX[1],gateY[0]],[gateX[1],gateY[1]],[gateX[0],gateY[1]],[gateX[0],gateY[0]]],'#555',1.6));
    texts.push([f.gate[0],f.gate[1],gateNames[f.i],'center'],[f.gate[0],f.gate[2],gateVals[f.i],'center']);
  } else {
    option.series.push(L([[quadX,flowMin],[quadX,flowMax]],'#444',1.5),L([[flowMin,quadY],[flowMax,quadY]],'#444',1.8));
    texts.push([-1.306,4.207,'Q1','left'],[-1.306,3.625,q1A[f.i],'left'],[4.216,4.207,'Q2','right'],[4.216,3.625,q2A[f.i],'right'],
               [4.216,-.312,'Q3','right'],[4.216,-.885,q3A[f.i],'right'],[-1.306,-.312,'Q4','left'],[-1.306,-.885,q4A[f.i],'left']);
  }
  option.series.push({type:'custom',xAxisIndex:xi,yAxisIndex:yi,z:6,silent:true,encode:{x:0,y:1},data:texts.map(t=>[t[0],t[1]]),
    renderItem(par,api){const t=texts[par.dataIndex],c=api.coord([t[0],t[1]]);
      return {type:'text',style:{text:t[2],x:c[0],y:c[1],align:t[3],verticalAlign:'middle',font:'bold 14.5px '+SANS,fill:'#222'}};}});
  if(f.stray){const s=f.stray;option.series.push(L([[s[0],s[2]],[s[1],s[2]],[s[1],s[3]],[s[0],s[3]],[s[0],s[2]]],'#777',1.2));}
}
const strayGate=[4.28,4.68,.2,.6];
const PE='Comp-PE-A :: ST2', CY='Comp-PE-Cy7-A :: IL-13', PI='Comp-PI-A :: KLRG1', APC='Comp-APC-A :: IL-5';
[
 {i:0,x:136.2,y:78.3,dots:dotsA1,core:coreA1,gate:[2.63,3.96,3.4],xName:PI,yName:'ST2',yFs:24,yGap:49,yFam:HEAD,yPad:[0,20,0,0],stray:strayGate},
 {i:1,x:451.8,y:80,dots:dotsA2,core:coreA2,gate:[2.61,4.03,3.44],xName:PI,yName:PE,yFs:15,yGap:47,yFam:SANS},
 {i:2,x:760.1,y:76.7,dots:dotsA3,core:coreA3,gate:[2.5,4.08,3.5],xName:PI,yName:PE,yFs:15,yGap:47,yFam:SANS},
 {i:3,x:1066.3,y:75.3,dots:dotsA4,core:coreA4,gate:[2.39,4.2,3.55],xName:PI,yName:PE,yFs:15,yGap:47,yFam:SANS},
 {i:0,x:142,y:412.3,dots:dotsA5,core:coreA5,xName:APC,yName:'IL-13',yFs:24,yGap:44,yFam:HEAD},
 {i:1,x:449.1,y:412,dots:dotsA6,core:coreA6,xName:APC,yName:CY,yFs:15,yGap:47,yFam:SANS},
 {i:2,x:754.7,y:414.3,dots:dotsA7,core:coreA7,xName:APC,yName:CY,yFs:15,yGap:47,yFam:SANS},
 {i:3,x:1063.2,y:414.3,dots:dotsA8,core:coreA8,xName:APC,yName:CY,yFs:15,yGap:47,yFam:SANS}
].forEach(flowPanel);

// ---------- headings, panel letters, arrows ----------
[['HIA Veh',248,49],['HIA Indo',562.5,47],['Alt Veh',872,46],['Alt Indo',1169,46]].forEach(t=>addText(t[0],t[1],t[2],headFont(25)));
[['KLRG1',403,374],['IL-5',393,706]].forEach(t=>addText(t[0],t[1],t[2],headFont(25)));
[['A',12.5,32],['B',1399,15],['C',1408,380],['D',26,816],['E',489,814],['F',952,814],['G',1414,814],['H',28,1261],['I',505,1261]].forEach(t=>addText(t[0],t[1],t[2],headFont(35)));
function arrow(x1,x2,head,y){
  option.graphic.push({type:'rect',left:x1,top:y-2,shape:{width:head-x1,height:4},style:{fill:'#000'}},
    {type:'polygon',left:head,top:y-10,shape:{points:[[0,0],[x2-head,10],[0,20]]},style:{fill:'#000'}});
}
arrow(200,566,544,352);
arrow(200,579.5,559,687.3);

echarts.init(document.getElementById('c'),null,{renderer:'canvas'}).setOption(option);
</script></body></html>
